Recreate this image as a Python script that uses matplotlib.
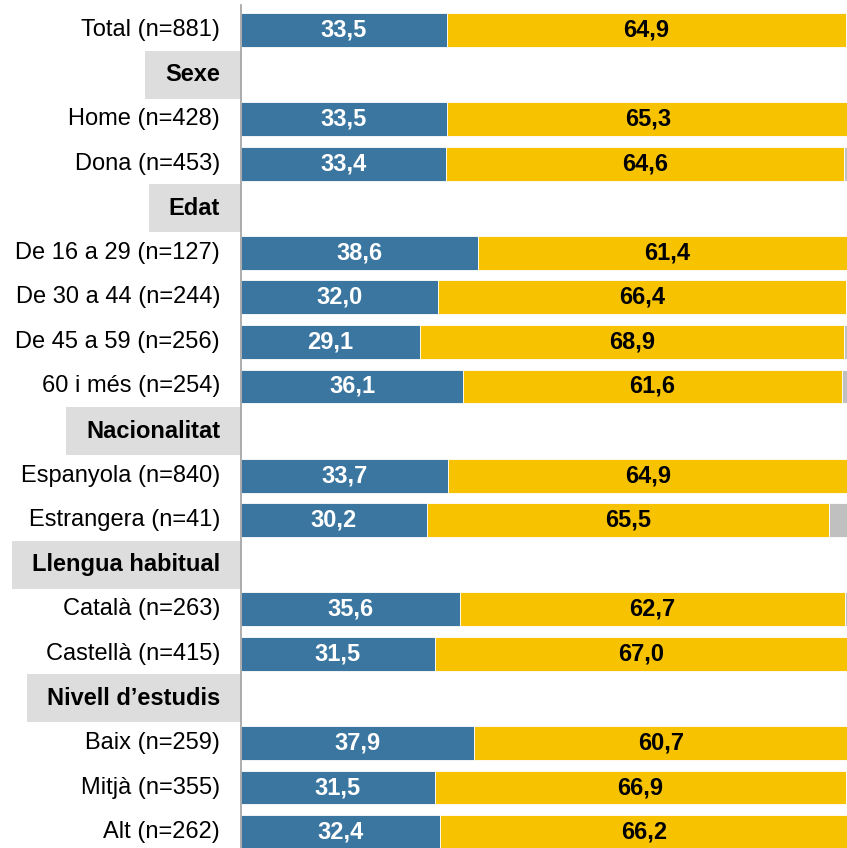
import matplotlib
matplotlib.use("Agg")
import matplotlib.pyplot as plt
import numpy as np
from matplotlib.patches import Rectangle

plt.rcParams['font.family'] = ['Liberation Sans', 'DejaVu Sans']

# rows in display order; None values mark section headers
labels = ["Total (n=881)", "Sexe", "Home (n=428)", "Dona (n=453)", "Edat",
          "De 16 a 29 (n=127)", "De 30 a 44 (n=244)", "De 45 a 59 (n=256)",
          "60 i més (n=254)", "Nacionalitat", "Espanyola (n=840)",
          "Estrangera (n=41)", "Llengua habitual", "Català (n=263)",
          "Castellà (n=415)", "Nivell d’estudis", "Baix (n=259)",
          "Mitjà (n=355)", "Alt (n=262)"]
blue_vals = [33.5, None, 33.5, 33.4, None, 38.6, 32.0, 29.1, 36.1, None,
             33.7, 30.2, None, 35.6, 31.5, None, 37.9, 31.5, 32.4]
yellow_vals = [64.9, None, 65.3, 64.6, None, 61.4, 66.4, 68.9, 61.6, None,
               64.9, 65.5, None, 62.7, 67.0, None, 60.7, 66.9, 66.2]

BLUE = "#3A76A0"
YELLOW = "#F7C200"
GREY = "#C0C0C0"
HEAD = "#DDDDDD"

W, H = 847, 848
fig = plt.figure(figsize=(W / 100, H / 100), dpi=100)
left_px = 241
ax = fig.add_axes([left_px / W, 0, 1 - left_px / W, 1])

pitch = 44.56
top_px = 30
ax.set_ylim((H - top_px) / pitch, -top_px / pitch)
ax.set_xlim(0, 98.55)

for i, (b, y) in enumerate(zip(blue_vals, yellow_vals)):
    if b is None:
        continue
    g = 100 - b - y
    kw = dict(height=0.76, edgecolor="white", linewidth=0.6)
    ax.barh(i, b, color=BLUE, **kw)
    ax.barh(i, y, left=b, color=YELLOW, **kw)
    if g > 0:
        ax.barh(i, g, left=b + y, color=GREY, **kw)
    ax.text(b / 2, i, f"{b:.1f}".replace(".", ","), ha="center", va="center",
            color="white", fontsize=17, fontweight="bold")
    ax.text(b + y / 2, i, f"{y:.1f}".replace(".", ","), ha="center", va="center",
            color="black", fontsize=17, fontweight="bold")

for s in ["top", "right", "bottom"]:
    ax.spines[s].set_visible(False)
ax.spines["left"].set_color("#A0A0A0")
ax.spines["left"].set_linewidth(1.2)
ax.spines["left"].set_bounds(-0.55, (H - top_px) / pitch)
ax.set_xticks([])
ax.set_yticks([])

texts = []
for i, lab in enumerate(labels):
    header = blue_vals[i] is None
    t = ax.annotate(lab, xy=(0, i), xytext=(-21, 0), textcoords="offset pixels",
                    ha="right", va="center", fontsize=17,
                    fontweight="bold" if header else "normal",
                    annotation_clip=False, zorder=5)
    texts.append((i, t, header))

fig.canvas.draw()
r = fig.canvas.get_renderer()
for i, t, header in texts:
    if not header:
        continue
    bb = t.get_window_extent(r)
    yc = ax.transData.transform((0, i))[1]
    x0 = bb.x0 - 20
    rect = Rectangle((x0, yc - 24), left_px - x0, 48, transform=None,
                     facecolor=HEAD, edgecolor="none", zorder=-1, clip_on=False)
    fig.add_artist(rect)

fig.savefig("out.png", dpi=100)
